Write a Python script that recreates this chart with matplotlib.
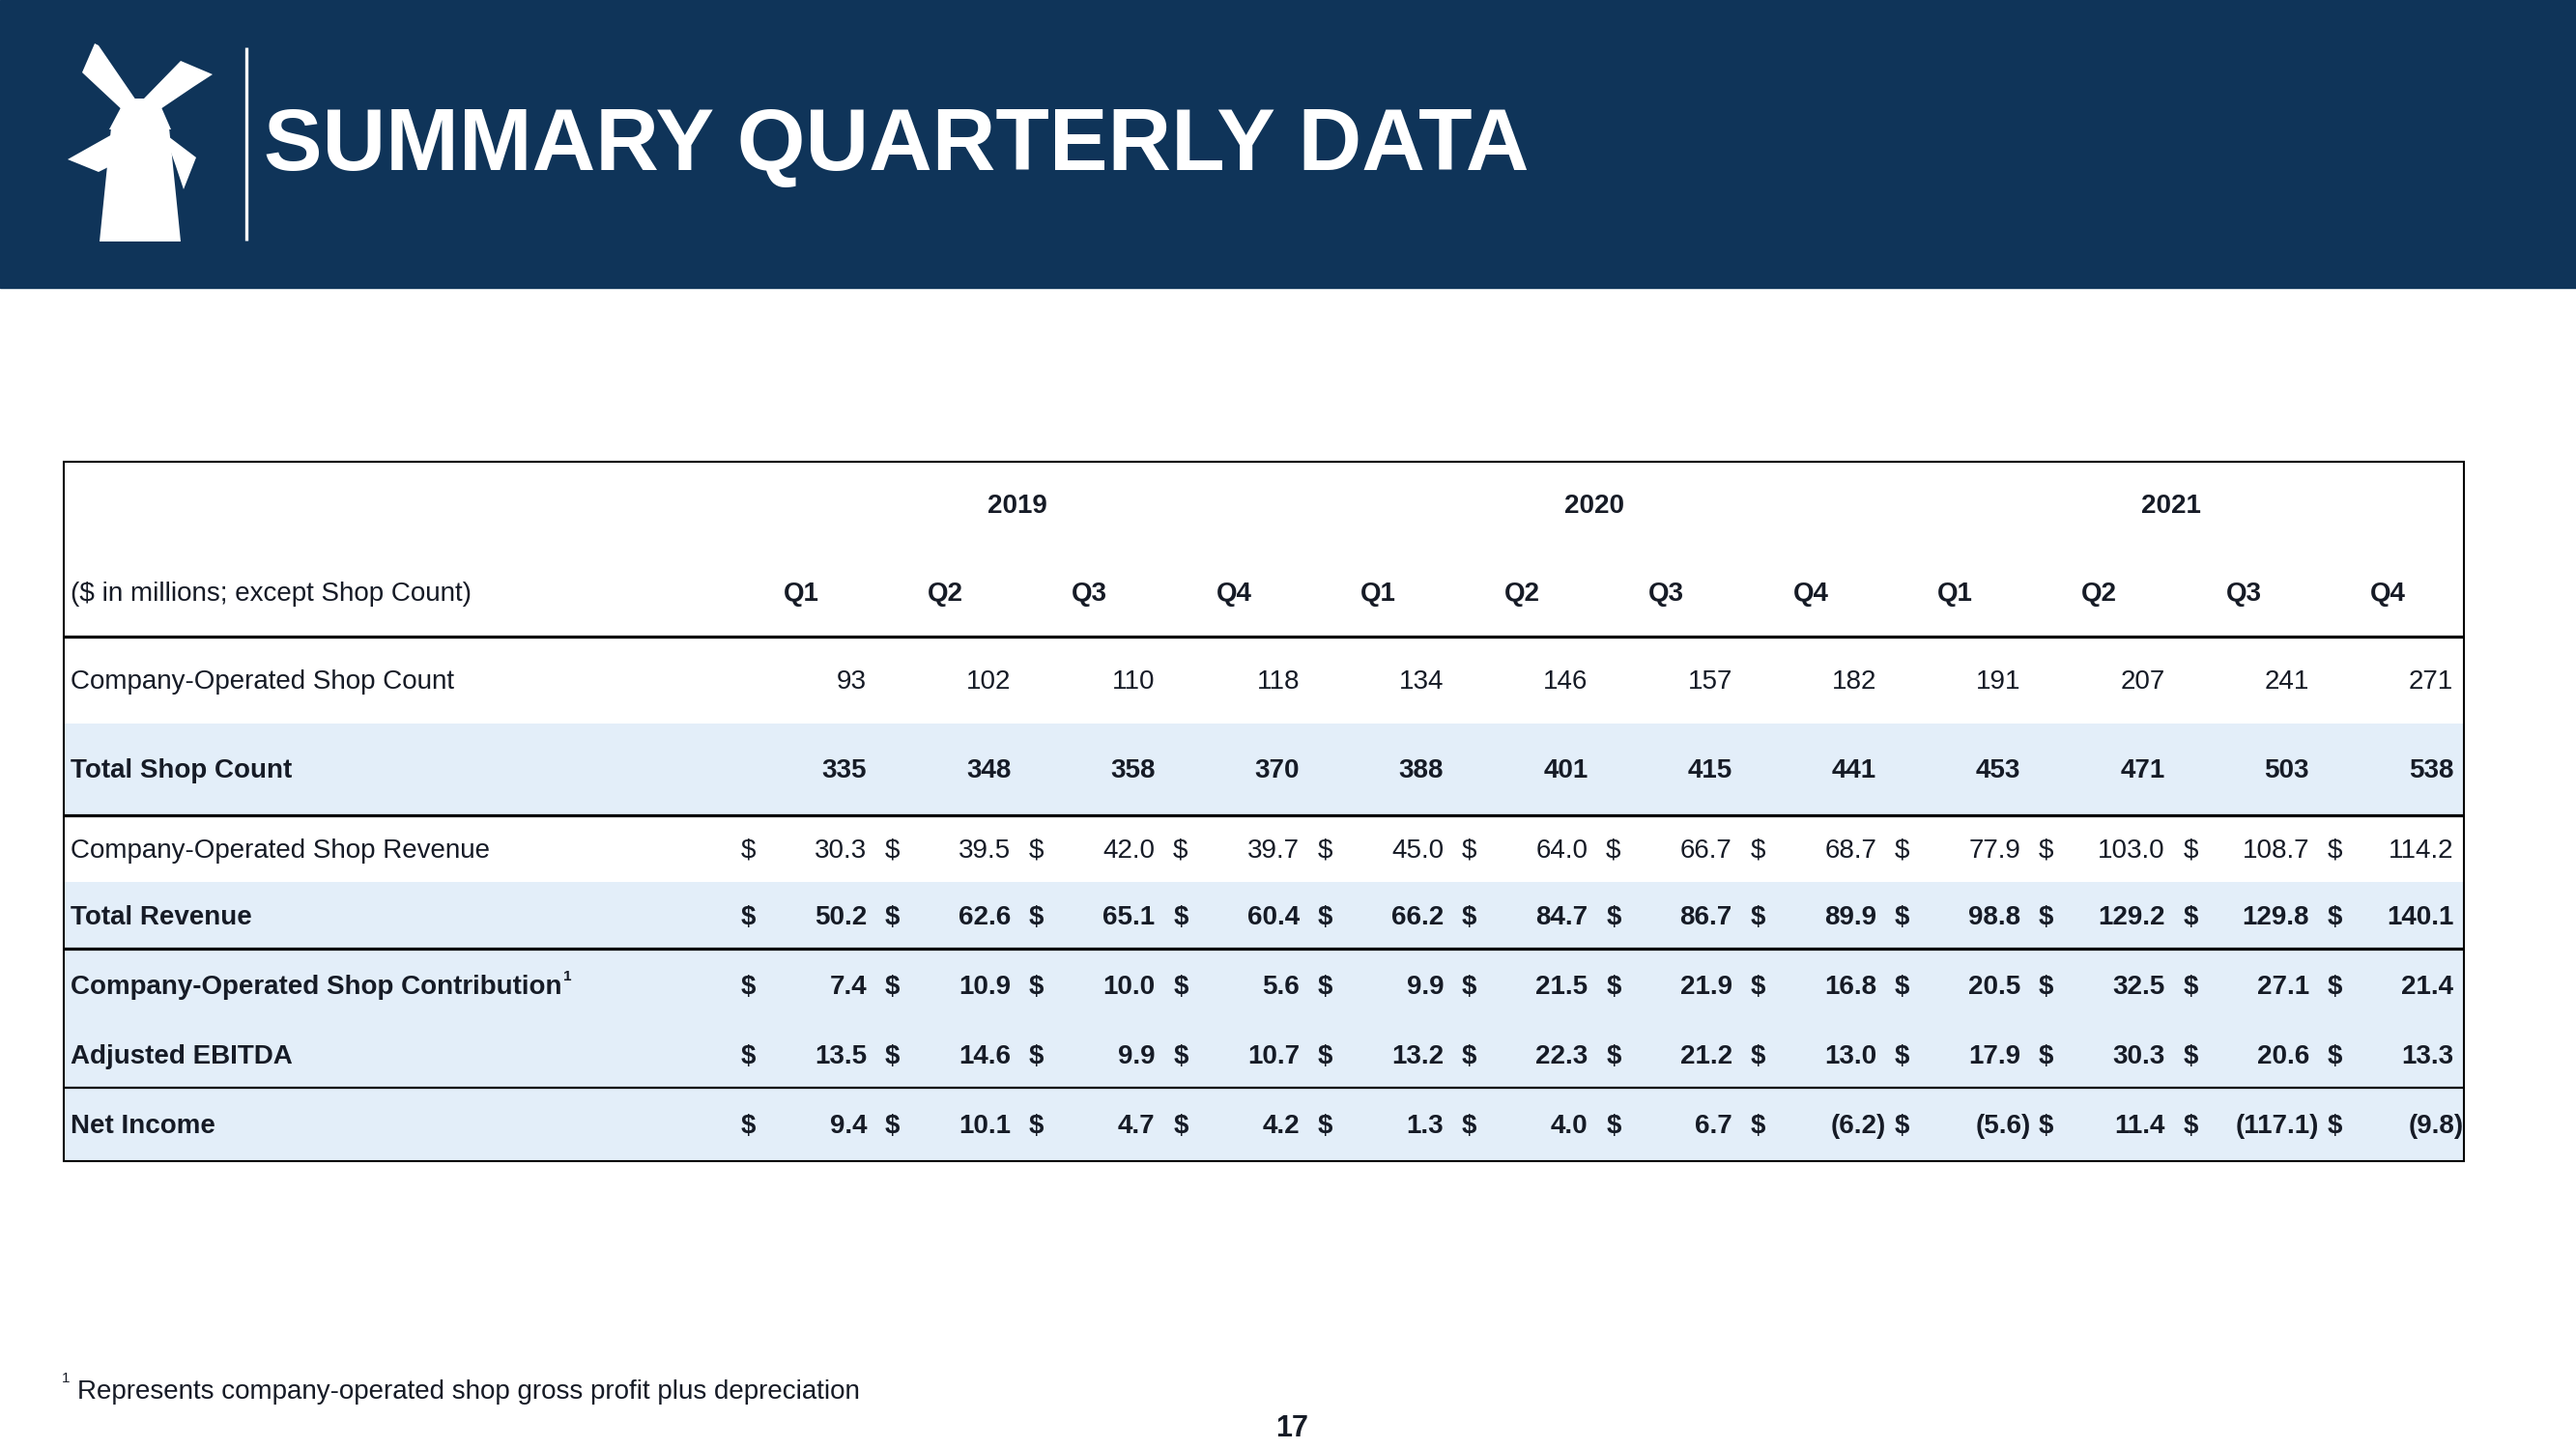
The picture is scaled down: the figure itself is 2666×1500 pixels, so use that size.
#!/usr/bin/env python3

import matplotlib
matplotlib.use("Agg")
import matplotlib.pyplot as plt
from matplotlib.patches import Rectangle, Polygon

# ---- data ----
years = ["2019", "2020", "2021"]
quarters = ["Q1", "Q2", "Q3", "Q4"] * 3

shop_count_co = [93, 102, 110, 118, 134, 146, 157, 182, 191, 207, 241, 271]
shop_count_total = [335, 348, 358, 370, 388, 401, 415, 441, 453, 471, 503, 538]
revenue_co = [30.3, 39.5, 42.0, 39.7, 45.0, 64.0, 66.7, 68.7, 77.9, 103.0, 108.7, 114.2]
revenue_total = [50.2, 62.6, 65.1, 60.4, 66.2, 84.7, 86.7, 89.9, 98.8, 129.2, 129.8, 140.1]
contribution = [7.4, 10.9, 10.0, 5.6, 9.9, 21.5, 21.9, 16.8, 20.5, 32.5, 27.1, 21.4]
adj_ebitda = [13.5, 14.6, 9.9, 10.7, 13.2, 22.3, 21.2, 13.0, 17.9, 30.3, 20.6, 13.3]
net_income = [9.4, 10.1, 4.7, 4.2, 1.3, 4.0, 6.7, -6.2, -5.6, 11.4, -117.1, -9.8]

# (label, values, is_money, bold)
rows = [
    ("Company-Operated Shop Count", shop_count_co, False, False),
    ("Total Shop Count", shop_count_total, False, True),
    ("Company-Operated Shop Revenue", revenue_co, True, False),
    ("Total Revenue", revenue_total, True, True),
    ("Company-Operated Shop Contribution", contribution, True, True),
    ("Adjusted EBITDA", adj_ebitda, True, True),
    ("Net Income", net_income, True, True),
]

title = "SUMMARY QUARTERLY DATA"
units_label = "($ in millions; except Shop Count)"
footnote = "Represents company-operated shop gross profit plus depreciation"
page_num = "17"

# ---- style ----
NAVY = "#0f3459"
SHADE = "#e3eef9"
INK = "#161b26"
FONT = ["Liberation Sans", "DejaVu Sans"]
plt.rcParams["font.family"] = FONT

W, H = 2666, 1500
fig = plt.figure(figsize=(W / 100, H / 100), dpi=100)
ax = fig.add_axes([0, 0, 1, 1])
ax.set_xlim(0, W)
ax.set_ylim(H, 0)
ax.axis("off")

# header band
ax.add_patch(Rectangle((0, 0), W, 298, color=NAVY, zorder=0))

# windmill logo (pixel outline)
logo = [
    [(98, 45), (85, 75), (131, 118), (141, 104), (102, 47)],          # upper-left sail
    [(187, 63), (220, 77), (200, 90), (163, 115), (149, 102)],        # upper-right sail
    [(130, 102), (163, 102), (177, 134), (113, 134)],                 # hub / cap
    [(118, 138), (70, 165), (102, 178), (118, 170)],                  # lower-left sail
    [(170, 138), (203, 163), (190, 196), (182, 172)],                 # lower-right sail
    [(115, 132), (175, 132), (187, 250), (103, 250)],                 # tower
]
for pts in logo:
    ax.add_patch(Polygon(pts, closed=True, color="white", lw=0, zorder=2))
ax.plot([255, 255], [49, 249], color="white", lw=2.4, solid_capstyle="butt")

ax.text(273, 176, title, color="white", fontsize=65.4, fontweight="bold",
        va="baseline", ha="left")

# ---- table layout (pixels) ----
left, right, top, bottom = 66, 2550, 478, 1202
label_x = 73
col_right0, col_step = 897, 149.3
col_right = [col_right0 + i * col_step for i in range(len(quarters))]
dollar_off = 123
q_off = 68
paren_pad = 10

year_y = 521
head_y = 612
row_y = [703, 795, 878, 947, 1019, 1091, 1163]
shade_bands = [(749, 844), (913, 982), (982, 1126), (1126, 1202)]

for y0, y1 in shade_bands:
    ax.add_patch(Rectangle((left, y0), right - left, y1 - y0, color=SHADE, lw=0, zorder=0.5))

# rules
for y, lw in [(659, 2.3), (844, 2.3), (982, 2.3), (1126, 1.6)]:
    ax.plot([left, right], [y, y], color="black", lw=lw, solid_capstyle="butt", zorder=3)
ax.add_patch(Rectangle((left, top), right - left, bottom - top, fill=False,
                       edgecolor="black", lw=1.5, zorder=3))

FS = 20
off = 10  # baseline offset from row centre

for i, yr in enumerate(years):
    xc = (col_right[4 * i + 1] + col_right[4 * i + 2]) / 2 - q_off
    ax.text(xc, year_y + off, yr, fontsize=FS, fontweight="bold", color=INK,
            ha="center", va="baseline")

ax.text(label_x, head_y + off, units_label, fontsize=FS, color=INK,
        ha="left", va="baseline")
for i, q in enumerate(quarters):
    ax.text(col_right[i] - q_off, head_y + off, q, fontsize=FS, fontweight="bold",
            color=INK, ha="center", va="baseline")

label_texts = []
for (label, vals, money, bold), y in zip(rows, row_y):
    w = "bold" if bold else "normal"
    t = ax.text(label_x, y + off, label, fontsize=FS, fontweight=w, color=INK,
                ha="left", va="baseline")
    label_texts.append(t)
    for i, v in enumerate(vals):
        if money:
            ax.text(col_right[i] - dollar_off, y + off, "$", fontsize=FS, fontweight=w,
                    color=INK, ha="center", va="baseline")
            if v < 0:
                s = f"({abs(v):.1f})"
                xr = col_right[i] + paren_pad
            else:
                s = f"{v:.1f}"
                xr = col_right[i]
        else:
            s = f"{v:d}"
            xr = col_right[i]
        ax.text(xr, y + off, s, fontsize=FS, fontweight=w, color=INK,
                ha="right", va="baseline")

# superscript after the contribution label
fig.canvas.draw()
bb = label_texts[4].get_window_extent()
sx = bb.x1 + 1
ax.text(sx, 1015, "1", fontsize=11, fontweight="bold", color=INK,
        ha="left", va="baseline")

# footnote & page number
ax.text(64, 1431, "1", fontsize=11, color=INK, ha="left", va="baseline")
ax.text(80, 1448, footnote, fontsize=FS, color=INK, ha="left", va="baseline")
ax.text(1337, 1487, page_num, fontsize=22, fontweight="bold", color=INK,
        ha="center", va="baseline")

fig.savefig("out.png", dpi=100, facecolor="white")
